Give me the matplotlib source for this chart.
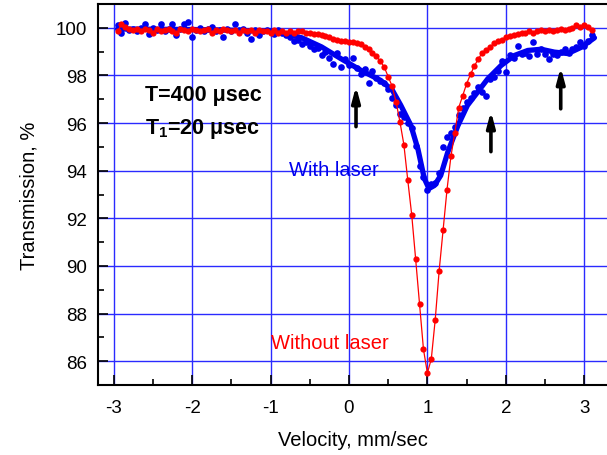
import matplotlib
matplotlib.use("Agg")
import matplotlib.pyplot as plt
from matplotlib.ticker import MultipleLocator

plt.rcParams['font.family'] = ['Liberation Sans', 'DejaVu Sans']
plt.rcParams['mathtext.fontset'] = 'custom'
plt.rcParams['mathtext.rm'] = 'Liberation Sans'
plt.rcParams['mathtext.bf'] = 'Liberation Sans:bold'
plt.rcParams['axes.unicode_minus'] = False

# velocity channels, mm/sec
velocity = [
    -2.95, -2.90, -2.85, -2.80, -2.75, -2.70, -2.65, -2.60, -2.55, -2.50,
    -2.45, -2.40, -2.35, -2.30, -2.25, -2.20, -2.15, -2.10, -2.05, -2.00,
    -1.95, -1.90, -1.85, -1.80, -1.75, -1.70, -1.65, -1.60, -1.55, -1.50,
    -1.45, -1.40, -1.35, -1.30, -1.25, -1.20, -1.15, -1.10, -1.05, -1.00,
    -0.95, -0.90, -0.85, -0.80, -0.75, -0.70, -0.65, -0.60, -0.55, -0.50,
    -0.45, -0.40, -0.35, -0.30, -0.25, -0.20, -0.15, -0.10, -0.05, 0.00,
    0.05, 0.10, 0.15, 0.20, 0.25, 0.30, 0.35, 0.40, 0.45, 0.50,
    0.55, 0.60, 0.65, 0.70, 0.75, 0.80, 0.85, 0.90, 0.95, 1.00,
    1.05, 1.10, 1.15, 1.20, 1.25, 1.30, 1.35, 1.40, 1.45, 1.50,
    1.55, 1.60, 1.65, 1.70, 1.75, 1.80, 1.85, 1.90, 1.95, 2.00,
    2.05, 2.10, 2.15, 2.20, 2.25, 2.30, 2.35, 2.40, 2.45, 2.50,
    2.55, 2.60, 2.65, 2.70, 2.75, 2.80, 2.85, 2.90, 2.95, 3.00,
    3.05, 3.10,
]

# transmission without laser (red)
without_laser = [
    99.85, 100.15, 100.05, 99.95, 99.90, 99.95, 99.85, 99.95, 99.90, 99.80,
    99.95, 99.85, 99.90, 99.95, 99.85, 99.80, 99.95, 99.90, 99.85, 99.95,
    99.90, 99.85, 99.90, 99.95, 99.80, 99.90, 99.85, 99.95, 99.90, 99.85,
    99.90, 99.80, 99.90, 99.85, 99.90, 99.80, 99.90, 99.85, 99.85, 99.80,
    99.90, 99.80, 99.85, 99.80, 99.85, 99.80, 99.85, 99.85, 99.80, 99.80,
    99.75, 99.75, 99.70, 99.65, 99.60, 99.55, 99.50, 99.45, 99.45, 99.40,
    99.40, 99.35, 99.30, 99.20, 99.10, 98.95, 98.80, 98.60, 98.35, 97.95,
    97.55, 96.90, 96.05, 95.10, 93.60, 92.15, 90.30, 88.40, 86.50, 85.50,
    86.10, 87.75, 89.80, 91.50, 93.20, 94.60, 95.60, 96.65, 97.15, 97.65,
    98.05, 98.40, 98.70, 98.95, 99.05, 99.20, 99.35, 99.45, 99.50, 99.60,
    99.65, 99.70, 99.75, 99.80, 99.80, 99.85, 99.80, 99.85, 99.90, 99.85,
    99.90, 99.85, 99.90, 99.95, 99.90, 99.95, 100.00, 100.10, 100.05, 100.10,
    100.05, 99.90,
]

# transmission with laser (blue points)
with_laser = [
    100.10, 99.80, 100.20, 99.90, 99.95, 99.85, 100.00, 100.15, 99.75, 100.00,
    99.90, 100.15, 99.85, 99.95, 100.15, 99.70, 99.95, 100.15, 100.25, 99.60,
    99.90, 100.00, 99.85, 99.95, 100.05, 99.85, 99.90, 99.60, 99.95, 99.85,
    100.15, 99.90, 99.95, 99.80, 99.55, 99.90, 99.70, 99.85, 99.90, 99.85,
    99.75, 99.90, 99.80, 99.70, 99.60, 99.45, 99.50, 99.30, 99.40, 99.25,
    99.10, 99.15, 98.85, 99.00, 98.75, 98.50, 98.95, 98.35, 98.70, 98.45,
    98.75, 98.30, 98.05, 98.25, 97.70, 98.20, 97.90, 97.75, 97.70, 97.45,
    97.05, 96.75, 96.40, 96.25, 96.00, 95.80, 95.05, 94.20, 93.75, 93.20,
    93.45, 93.50, 93.90, 95.00, 95.40, 95.60, 95.85, 96.35, 96.65, 96.90,
    97.05, 97.25, 97.50, 97.30, 97.15, 97.85, 97.95, 98.20, 98.60, 98.15,
    98.85, 98.75, 99.25, 98.90, 98.95, 98.80, 99.40, 98.90, 99.10, 98.90,
    98.70, 98.90, 98.85, 99.00, 99.10, 98.95, 99.10, 99.20, 99.40, 99.25,
    99.45, 99.70,
]

# fitted curve for the laser spectrum
fit_velocity = [
    -2.95, -2.0, -1.5, -1.0, -0.8, -0.6, -0.35, -0.1, 0.15, 0.4,
    0.55, 0.66, 0.79, 0.88, 0.96, 1.02, 1.09, 1.17, 1.26, 1.39,
    1.51, 1.64, 1.77, 1.94, 2.11, 2.28, 2.45, 2.62, 2.79, 2.96, 3.13,
]
fit_with_laser = [
    99.95, 99.93, 99.90, 99.85, 99.75, 99.58, 99.20, 98.70, 98.22, 97.80,
    97.40, 96.75, 95.90, 94.90, 93.68, 93.25, 93.38, 93.80, 94.78, 95.90,
    96.74, 97.30, 97.86, 98.42, 98.84, 99.05, 99.10, 98.98, 98.92, 99.18, 99.58,
]

# arrows marking the additional lines
arrow_x = [0.09, 1.81, 2.70]
arrow_tip = [97.55, 96.5, 98.35]
arrow_tail = [95.85, 94.8, 96.6]

fig = plt.figure(figsize=(6.07, 4.56), dpi=100)
ax = fig.add_axes([0.1614, 0.1535, 0.8386, 0.8355])

grid_blue = '#2a2aff'
ax.grid(True, which='major', color=grid_blue, linewidth=1.0)
ax.set_axisbelow(True)

ax.plot(velocity, with_laser, 'o', color='#0000ee', markersize=4.8,
        markeredgewidth=0, zorder=3)
ax.plot(fit_velocity, fit_with_laser, '-', color='#0000ee', linewidth=3.8,
        zorder=3, solid_capstyle='round')
ax.plot(velocity, without_laser, '-o', color='#ff0000', markersize=4.5,
        markeredgewidth=0, linewidth=0.9, zorder=4)

for x, tip, tail in zip(arrow_x, arrow_tip, arrow_tail):
    ax.annotate('', xy=(x, tip), xytext=(x, tail),
                arrowprops=dict(arrowstyle='-|>,head_width=0.24,head_length=0.9',
                                color='black', lw=2.6, shrinkA=0, shrinkB=0),
                zorder=5)

ax.text(-2.6, 97.2, 'T=400 μsec', fontsize=15.5, fontweight='bold',
        va='center', ha='left')
ax.text(-2.6, 95.8, r'T$_{\mathbf{1}}$=20 μsec', fontsize=15.5,
        fontweight='bold', va='center', ha='left')
ax.text(-0.76, 94.03, 'With laser', fontsize=14.5, color='#0000ee',
        va='center', ha='left')
ax.text(-1.0, 86.8, 'Without laser', fontsize=14.5, color='#ff0000',
        va='center', ha='left')

ax.set_xlim(-3.2, 3.29)
ax.set_ylim(85, 101)
ax.xaxis.set_major_locator(MultipleLocator(1))
ax.xaxis.set_minor_locator(MultipleLocator(0.5))
ax.yaxis.set_major_locator(MultipleLocator(2))
ax.yaxis.set_minor_locator(MultipleLocator(1))
ax.tick_params(which='both', direction='in', labelsize=13.5, width=1.2,
               top=False, right=False)
ax.tick_params(which='major', length=7, pad=8)
ax.tick_params(axis='x', which='major', pad=10)
ax.tick_params(which='minor', length=4)

for side in ['left', 'bottom', 'top']:
    ax.spines[side].set_linewidth(1.5)
ax.spines['right'].set_visible(False)

ax.set_xlabel('Velocity, mm/sec', fontsize=14.5, labelpad=10)
ax.set_ylabel('Transmission, %', fontsize=14.5, labelpad=12)

fig.savefig('out.png', dpi=100)
